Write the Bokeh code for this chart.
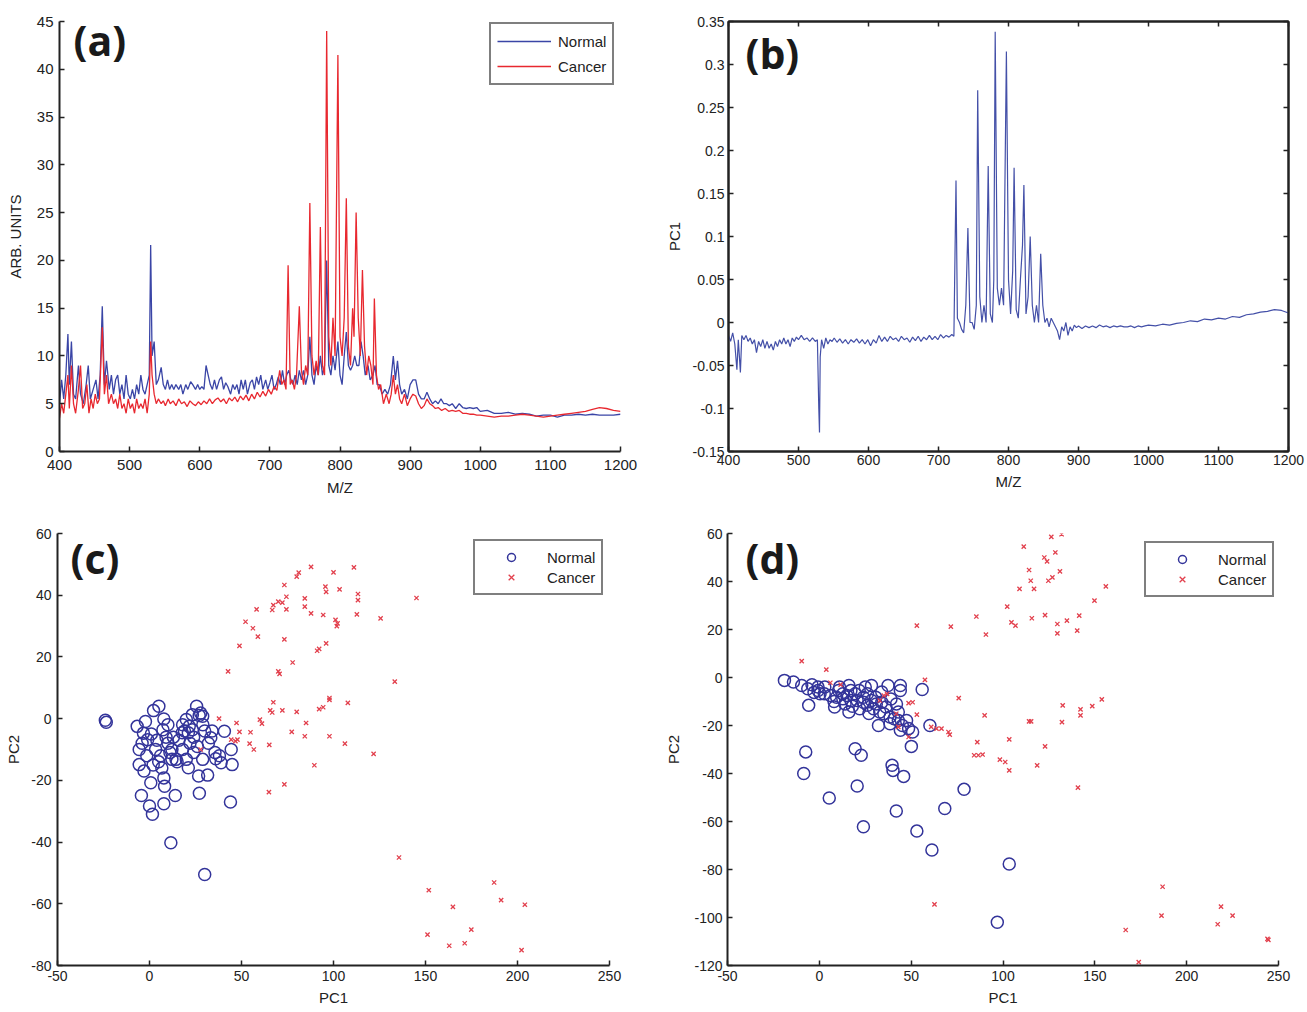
from bokeh.plotting import figure
from bokeh.models import Range1d, FixedTicker, LinearAxis, Label, Legend, LegendItem
from bokeh.layouts import column, row
from bokeh.embed import file_html
from bokeh.resources import INLINE

# ---------------- data ----------------
# (a) mean spectra
mz_normal = [400,403,406,409,412,414,417,420,423,427,430,434,438,441,444,448,452,455,458,461,464,467,471,474,477,480,483,486,489,492,495,498,501,504,507,510,513,516,519,522,525,528,530,532,535,538,541,545,548,551,554,557,560,563,566,570,573,576,580,583,587,590,594,597,600,603,606,609,612,615,618,621,624,628,631,634,637,640,644,647,650,653,656,659,662,665,668,672,675,678,681,684,687,690,694,697,700,703,706,709,712,715,718,721,724,727,730,733,736,739,742,745,748,751,754,757,760,763,766,769,772,775,778,781,784,787,790,793,797,800,803,806,809,812,815,818,821,824,827,830,833,836,840,843,847,850,853,856,860,864,868,872,876,879,882,885,888,892,896,900,904,908,912,916,920,924,928,932,936,940,944,948,952,956,960,965,970,975,980,985,990,995,1000,1010,1020,1030,1040,1050,1060,1070,1080,1090,1100,1110,1120,1130,1140,1150,1160,1170,1180,1190,1200]
int_normal = [5.0,7.5,5.5,8,12.3,7,11.5,6,5.5,9,6,5,7,9,5.5,6.5,7.5,5.5,8,15.2,7,9.5,6.5,8,6,7.5,8,6,7,5.5,8,6,5.5,6.5,5.5,7,6,8,6.5,6,7,8,21.6,10,11.5,7,7.5,8.8,7,6.5,7.5,6.5,7,6.5,7,6.5,7,6,7,6.5,7.3,7,6.5,7,6.5,6.8,6.5,9,8,7,6.5,7.5,6.5,7.5,7.8,6.5,7.2,6.8,6,7,6.5,7,6,7.5,6.5,7.5,6,7.2,7.5,6.5,7.8,7,8,6.5,7.5,6.5,7.2,8,6.5,7,7.8,7,8.5,7,8,8.5,7.5,7,8,7,8.5,7.5,8.5,7,8,12,8,7,9,8,10,8,9,20,9,8,10,8.5,11.5,8,7,10,12.5,9,8.5,9,10,9,9,11.5,10,8,9,7.5,8,9,7,7,6,6.5,6,7,10,7.5,9.5,7,6,6.5,5.5,7,7.5,7.5,6,5.5,5.5,6.2,5.5,5,5.3,5,5.5,5,5,4.8,5,4.5,5,4.6,4.5,4.6,4.5,4.6,4.2,4.3,4,4,4.1,3.9,4,3.9,3.7,3.8,3.8,3.6,3.8,3.8,3.9,3.8,3.9,3.8,3.8,3.8,3.9]
mz_cancer = [400,403,406,409,412,414,417,420,423,427,430,433,436,439,442,445,448,451,454,457,461,464,467,470,474,477,480,483,486,489,492,495,498,501,504,507,510,513,516,519,522,525,528,530,532,535,538,541,545,548,551,555,558,562,566,570,574,578,582,586,590,594,598,602,606,610,614,618,622,626,630,634,638,642,646,650,654,658,662,666,670,674,678,682,686,690,694,698,702,706,710,714,717,720,723,726,729,732,735,738,742,745,748,751,754,757,760,763,766,769,772,775,778,781,784,787,790,793,797,800,803,806,809,812,815,818,820,823,826,829,832,835,838,841,844,847,849,852,855,858,862,866,870,873,876,879,882,885,888,892,896,900,904,908,912,916,920,924,928,932,936,940,945,950,955,960,965,970,975,980,985,990,995,1000,1010,1020,1030,1040,1050,1060,1070,1080,1090,1100,1110,1120,1130,1140,1150,1160,1170,1180,1190,1200]
int_cancer = [3.5,5,4,6,8,4.5,9,5,4,6.5,9,4.5,5,7,4,5.5,4.5,6,5,5.5,13,6,8,5,6,5,5.5,4.5,6,4.5,5,4,5.5,4.5,5,4,5.5,4.5,5,4.5,5.5,4,6,11.5,8,6,5,5.5,5,5.3,4.8,5.5,5,5.3,4.8,5.5,5,5.2,4.7,5.3,5,4.8,5.2,4.9,5.3,5,5.5,5,5.4,5.6,5.2,5.5,5,5.6,5.3,5.7,5.2,5.8,5.4,5.9,5.3,6,5.5,6.2,5.7,6.3,5.8,6.5,6,6.8,6.4,8.5,7,7.5,6.5,19.5,7,7.5,6.5,8,15.2,8.5,7,9,8,26,10,8,9.5,8,23.5,9,8,44,12,9,14,10,41.5,12,10,14,26.5,11,9,15,12,25,14,10,19,11,8,10,9,7,16,8,6.5,7,5,6,5,6,8,6,7,5.5,5,6,4.8,5.5,6,5.8,5,4.5,4.8,5.5,5,4.8,4.5,4.6,4.3,4.5,4.2,4.3,4.2,4.3,4,4,3.9,3.9,3.8,3.8,3.7,3.6,3.7,3.7,3.8,3.9,3.8,3.7,3.6,3.7,3.8,3.9,4,4.1,4.2,4.4,4.6,4.5,4.3,4.2]

# (b) PC1 loading
mz_pc1 = [400,403,406,409,412,414,417,419,422,425,428,431,434,437,440,443,446,449,452,455,458,461,464,467,470,473,476,479,482,485,488,491,494,497,500,504,508,512,516,520,524,527,529,530,531,533,536,539,542,545,548,551,555,559,563,567,571,575,579,583,587,591,595,599,603,607,611,615,619,623,627,631,635,639,643,647,651,655,659,663,667,671,675,679,683,687,691,695,699,703,707,711,715,719,722,725,727,730,733,736,739,742,745,748,751,754,756,759,762,765,768,771,774,777,779,781,784,787,790,793,797,800,803,806,808,811,814,817,820,822,825,828,831,834,837,840,843,846,849,852,855,858,861,864,867,870,873,876,879,882,885,888,891,894,897,900,905,910,915,920,925,930,935,940,945,950,955,960,965,970,975,980,985,990,995,1000,1010,1020,1030,1040,1050,1060,1070,1080,1090,1100,1110,1120,1130,1140,1150,1160,1170,1180,1190,1200]
pc1_load = [-0.015,-0.022,-0.012,-0.025,-0.055,-0.02,-0.058,-0.015,-0.02,-0.015,-0.022,-0.018,-0.025,-0.02,-0.035,-0.022,-0.028,-0.02,-0.03,-0.022,-0.03,-0.025,-0.032,-0.022,-0.028,-0.02,-0.025,-0.018,-0.025,-0.02,-0.028,-0.018,-0.022,-0.017,-0.02,-0.015,-0.02,-0.018,-0.022,-0.018,-0.022,-0.02,-0.1,-0.128,-0.04,-0.02,-0.03,-0.018,-0.025,-0.02,-0.022,-0.018,-0.023,-0.019,-0.024,-0.02,-0.025,-0.02,-0.023,-0.019,-0.024,-0.02,-0.025,-0.02,-0.027,-0.02,-0.024,-0.015,-0.022,-0.017,-0.022,-0.016,-0.02,-0.018,-0.022,-0.016,-0.02,-0.018,-0.023,-0.017,-0.021,-0.016,-0.022,-0.017,-0.02,-0.015,-0.02,-0.016,-0.02,-0.014,-0.018,-0.015,-0.017,-0.014,-0.016,0.165,0.005,0.0,-0.008,-0.012,0.02,0.11,0.0,0.0,-0.008,0.02,0.27,0.03,0.0,0.02,0.0,0.182,0.01,0.0,0.05,0.338,0.04,0.02,0.04,0.02,0.315,0.05,0.01,0.06,0.18,0.015,0.005,0.05,0.09,0.16,0.01,0.03,0.1,0.02,0.0,0.02,0.0,0.08,0.02,0.0,0.005,-0.005,0.005,0.0,-0.005,-0.01,-0.02,-0.005,-0.01,0.0,-0.015,-0.005,-0.01,-0.003,-0.006,-0.004,-0.007,-0.004,-0.006,-0.004,-0.006,-0.003,-0.005,-0.004,-0.006,-0.004,-0.005,-0.004,-0.005,-0.005,-0.004,-0.006,-0.004,-0.005,-0.004,-0.003,-0.004,-0.002,-0.003,-0.001,0.0,0.002,0.001,0.004,0.003,0.005,0.004,0.007,0.006,0.009,0.01,0.012,0.013,0.015,0.014,0.011]

# (c) scores
c_normal_pc1 = [-24,-23.5,-6.7,-5.6,-5.6,-4.4,-2.2,-3.3,-1,0,1.6,0.7,2.2,5.1,7.8,7.3,6.7,7.8,8.2,7.8,14,3.3,10,12.2,14.4,11.1,11.6,30,25.6,20,21.6,23.3,27.8,28.9,17.8,21.1,23.3,26.7,27.1,31.6,33.3,35.6,38.9,40.7,44.4,44.9,44,28.9,21.1,20,12.2,-1.5,-3,1,4,6,9,16,18,24,26,30,32,36,24,18,2,-4,29,22,19,34,15,10,5,38,27,13]
c_normal_pc2 = [-0.5,-1.2,-2.5,-10,-14.9,-24.9,-0.9,-4.7,-6.8,-28.3,-31,-20.8,2.6,4,-0.1,-3.6,-16,-19.2,-21.9,-27.6,-24.9,-10,-8,-10,-13.2,-11,-40.2,-50.5,4,-0.3,-2.5,1.3,1.8,0.8,-4.6,-4.6,-3.6,-18.6,-24.2,-18.3,-6.2,-11,-14.3,-4.1,-10,-14.9,-27,-13.2,-15.9,-13.2,-13.2,-12,-17,-5,-7,-12,-6,-7,-2,-6,-9,-4,-8,-13,-11,-10,-15,-8,-2,-8,-4,-4,-14,-2,-14,-12,1,-6]
c_cancer_pc1 = [42.7,48.9,52.2,56.2,58.2,58.9,66.7,67.3,70,72.2,73.3,74.4,74.4,80,81.1,87.8,84.4,84.4,87.8,95.6,96,100,103.3,111.1,113.3,113.3,112.7,125.6,145.1,133.3,73.3,77.8,70,70.7,91.1,92.2,96,94.4,101.1,101.8,102.2,37.8,47.3,48.9,47.8,46.7,44.4,54.9,54.4,56.7,60,61.1,65.1,65.6,66.7,67.3,72.2,80,77.3,84.4,85.1,92.2,94.4,97.8,97.8,97.8,107.8,106.2,121.8,89.6,73.3,64.9,27.8,135.6,151.8,164.9,187.3,191.1,204,151.1,174.9,162.9,171.3,202.2]
c_cancer_pc2 = [15.3,23.6,31.4,29.3,35.4,26.6,35.2,36.8,37.9,37.6,43.3,39.5,35.4,46,47.3,49.2,39,36.3,34.1,42.8,41.1,47.4,41.9,49,40.4,38.4,33.8,32.5,39.1,12,25.7,18.2,15.3,14.5,22,22.6,24.4,33.6,32,30,30.9,0,-1.4,-4.3,-6.8,-7.3,-6.8,-4.4,-8.1,-10,-0.3,-1.6,-8.5,2.7,2,5.3,2.7,2.2,-4.3,-5.7,-1.4,3.1,3.7,6.7,6.1,-5.7,5.1,-8.1,-11.4,-15.1,-21.3,-23.8,-10,-45,-55.6,-61,-53.1,-58.8,-60.3,-70,-68.4,-73.6,-72.8,-75]

# (d) scores
d_normal_pc1 = [-19,-14.1,-9.6,-6.3,-2.9,-0.7,0.4,-5.8,-7.4,-8.5,5.4,19.5,22.8,20.6,24,39.6,40.1,45.9,41.9,53.1,61.3,68.3,78.8,103.4,96.9,56,50.8,50.1,60.2,44.1,44.1,28.4,16.1,32.2,38.5,43,44.1,16.1,8.3,37.4,-0.7,2.7,6,9.4,12.8,15,17.2,20.6,24,26.2,29.5,32.9,35.1,38.5,40.7,45.2,48.6,19.5,21.7,26.2,30.7,34,12.8,10.5,17.2,24,28.4,36.3,43,47.5,-4,3,8,14,22,27,31,18,11,25,34,39,42]
d_normal_pc2 = [-1.2,-1.9,-3.3,-4.7,-6.2,-4,-6.8,-11.6,-31,-40,-50.2,-29.7,-32.4,-45.2,-62.2,-36.6,-38.7,-41.2,-55.6,-64,-71.9,-54.6,-46.6,-77.7,-102,-5,-22.7,-28.7,-20,-3.3,-5.4,-3.3,-3.3,-20,-19.3,-17.9,-22,-14.4,-12.3,-3.3,-5.4,-6.8,-7.5,-8.2,-8.9,-7.5,-9.6,-9.6,-10.3,-11.6,-13,-14.4,-15.1,-16.5,-17.2,-20,-21.3,-6.8,-5.4,-6.8,-8.2,-10.3,-6.8,-5.4,-5.4,-8.2,-9.6,-12.3,-14.4,-17.9,-3,-4,-10,-11,-13,-15,-11,-12,-4,-4,-6,-9,-11]
d_cancer_pc1 = [-9.6,3.8,6,11.6,57.5,75.9,90,53.1,48.6,50.8,32.9,35.1,36.9,41.9,43,48.6,60.9,63.8,66.5,70.3,71,86,84.3,86.6,88.9,98.3,101.2,103.4,103.4,118.6,122.9,114.2,115.3,132.1,132.5,142.2,142.2,148.6,153.8,140.8,62.7,186.9,186.3,166.8,173.9,218.7,225,216.9,244,244.5,53.1,71.6,85.5,90.7,102.3,104.6,106.8,109,111.3,114.2,115.1,116.9,115.7,122.5,124,122.9,124.7,126.9,126.3,128.5,131.9,131,129.6,129.6,134.8,140.4,141.5,149.8,156]
d_cancer_pc2 = [6.8,3.3,-2.2,-3,-1,-8.6,-15.8,-15.5,-10.7,-10.3,-9.6,-7.5,-6.8,-15.1,-20.6,-24.8,-20.6,-21.3,-21.3,-22.7,-23.8,-26.9,-32.4,-32.4,-32.1,-34.2,-35.2,-38.7,-25.8,-36.6,-28.7,-18.3,-18.3,-18.6,-11.6,-13.3,-15.8,-11.9,-9.1,-45.9,-94.5,-87.2,-99.2,-105.2,-118.6,-95.5,-99.2,-102.8,-108.9,-109.3,21.6,21.2,25.4,17.9,29.5,23,21.6,36.9,54.5,44.8,40.3,36.9,24.7,50,48.4,26,40.3,41.7,58.6,52.1,59.7,44.2,22.3,18.4,23.7,19.5,25.8,32,38]

mz_ticks = [400,500,600,700,800,900,1000,1100,1200]
a_y_ticks = [0,5,10,15,20,25,30,35,40,45]
b_y_ticks = [-0.15,-0.1,-0.05,0,0.05,0.1,0.15,0.2,0.25,0.3,0.35]
b_y_labels = ["-0.15","-0.1","-0.05","0","0.05","0.1","0.15","0.2","0.25","0.3","0.35"]
pc1_ticks = [-50,0,50,100,150,200,250]
c_y_ticks = [-80,-60,-40,-20,0,20,40,60]
d_y_ticks = [-120,-100,-80,-60,-40,-20,0,20,40,60]

BLUE = "#3a45a6"
RED = "#e8282f"
CIRC = "#33349a"
XRED = "#e2404d"
FONT = "Liberation Sans"
INK = "#222222"


def style_axis(ax, ticks, labels=None, size="14px", show_labels=True):
    ax.ticker = FixedTicker(ticks=ticks)
    if labels is None:
        labels = [str(t) for t in ticks]
    if not show_labels:
        labels = ["" for _ in ticks]
    ax.major_label_overrides = {t: l for t, l in zip(ticks, labels)}
    ax.axis_line_width = 2
    ax.axis_line_color = INK
    ax.major_tick_in = 5
    ax.major_tick_out = 0
    ax.major_tick_line_width = 1.5
    ax.major_tick_line_color = INK
    ax.minor_tick_in = 0
    ax.minor_tick_out = 0
    ax.major_label_text_font = FONT
    ax.major_label_text_color = INK
    if show_labels:
        ax.major_label_text_font_size = size
        ax.major_label_standoff = 6
    else:
        ax.major_label_text_font_size = "1px"
        ax.major_label_standoff = 0
    ax.axis_label_text_font = FONT
    ax.axis_label_text_font_style = "normal"
    ax.axis_label_text_font_size = "15px"
    ax.axis_label_text_color = INK


def base_fig(w, h, xr, yr, l, r, t, b):
    p = figure(width=w, height=h, x_range=Range1d(*xr), y_range=Range1d(*yr),
               output_backend="svg", toolbar_location=None,
               min_border_left=l, min_border_right=r, min_border_top=t, min_border_bottom=b)
    p.xgrid.visible = False
    p.ygrid.visible = False
    p.outline_line_color = None
    p.background_fill_color = "white"
    p.border_fill_color = "white"
    return p


def panel_label(p, txt, x, y):
    p.add_layout(Label(x=x, y=y, text=txt, text_font="Open Sans", text_font_style="bold",
                       text_font_size="41px", text_color="#1a1a1a", text_baseline="alphabetic"))


def make_legend(p, items, loc, gw, gh, pad, spacing, standoff):
    lg = Legend(items=items, location=loc, glyph_width=gw, glyph_height=gh, padding=pad,
                spacing=spacing, label_standoff=standoff, label_height=gh,
                label_text_font=FONT, label_text_font_size="15px", label_text_color=INK,
                border_line_color="black", border_line_width=2.5,
                background_fill_color="white", background_fill_alpha=1.0, margin=0)
    p.add_layout(lg, "center")


# ---------------- (a) ----------------
pa = base_fig(660, 500, (400, 1200), (0, 45), 59, 40, 21, 49)
ra = pa.line(mz_normal, int_normal, line_color=BLUE, line_width=1.3)
rb = pa.line(mz_cancer, int_cancer, line_color=RED, line_width=1.3)
style_axis(pa.xaxis[0], mz_ticks, size="15px")
style_axis(pa.yaxis[0], a_y_ticks, size="15px")
pa.xaxis[0].axis_label = "M/Z"
pa.yaxis[0].axis_label = "ARB. UNITS"
pa.xaxis[0].major_label_standoff = 8
pa.xaxis[0].axis_label_standoff = 6
pa.yaxis[0].axis_label_standoff = 10
panel_label(pa, "(a)", 420, 43.1)
make_legend(pa, [LegendItem(label="Normal", renderers=[ra]), LegendItem(label="Cancer", renderers=[rb])],
            (430, 366), 54, 22, 6, 3, 7)

# ---------------- (b) ----------------
pb = base_fig(647, 500, (400, 1200), (-0.15, 0.35), 68, 19, 11, 49)
pb.outline_line_color = INK
pb.outline_line_width = 2
pb.line(mz_pc1, pc1_load, line_color="#4450a8", line_width=1.2)
style_axis(pb.xaxis[0], mz_ticks)
style_axis(pb.yaxis[0], b_y_ticks, b_y_labels)
pb.xaxis[0].axis_label = "M/Z"
pb.yaxis[0].axis_label = "PC1"
pb.xaxis[0].major_label_standoff = 3
pb.xaxis[0].axis_label_standoff = 5
pb.yaxis[0].major_label_standoff = 4
pb.yaxis[0].axis_label_standoff = 7
top_ax = LinearAxis()
right_ax = LinearAxis()
style_axis(top_ax, mz_ticks, show_labels=False)
style_axis(right_ax, b_y_ticks, b_y_labels, show_labels=False)
pb.add_layout(top_ax, "above")
pb.add_layout(right_ax, "right")
panel_label(pb, "(b)", 424.3, 0.313)

# ---------------- (c) ----------------
pc = base_fig(660, 512, (-50, 250), (-80, 60), 57, 51, 33, 45)
rcn = pc.scatter(c_normal_pc1, c_normal_pc2, marker="circle", size=12, fill_color=None,
                 line_color=CIRC, line_width=1.5)
rcc = pc.scatter(c_cancer_pc1, c_cancer_pc2, marker="x", size=6, line_color=XRED, line_width=1.3)
style_axis(pc.xaxis[0], pc1_ticks)
style_axis(pc.yaxis[0], c_y_ticks)
pc.xaxis[0].axis_label = "PC1"
pc.yaxis[0].axis_label = "PC2"
pc.xaxis[0].major_label_standoff = 5
pc.xaxis[0].axis_label_standoff = 5
pc.yaxis[0].axis_label_standoff = 6
panel_label(pc, "(c)", -42.9, 52.1)
make_legend(pc, [LegendItem(label="Normal", renderers=[rcn]), LegendItem(label="Cancer", renderers=[rcc])],
            (416, 370), 60, 20, 6, 0, 6)

# ---------------- (d) ----------------
pd_ = base_fig(647, 512, (-50, 250), (-120, 60), 67, 29, 33, 47)
rdn = pd_.scatter(d_normal_pc1, d_normal_pc2, marker="circle", size=12, fill_color=None,
                  line_color=CIRC, line_width=1.5)
rdc = pd_.scatter(d_cancer_pc1, d_cancer_pc2, marker="x", size=6, line_color=XRED, line_width=1.3)
style_axis(pd_.xaxis[0], pc1_ticks)
style_axis(pd_.yaxis[0], d_y_ticks)
pd_.xaxis[0].axis_label = "PC1"
pd_.yaxis[0].axis_label = "PC2"
pd_.xaxis[0].major_label_standoff = 5
pd_.xaxis[0].axis_label_standoff = 5
pd_.yaxis[0].major_label_standoff = 5
pd_.yaxis[0].axis_label_standoff = 9
panel_label(pd_, "(d)", -40.2, 49.75)
make_legend(pd_, [LegendItem(label="Normal", renderers=[rdn]), LegendItem(label="Cancer", renderers=[rdc])],
            (417, 368), 60, 20, 6, 0, 6)

layout = column(row(pa, pb), row(pc, pd_))
open("out.html", "w").write(file_html(layout, INLINE))
